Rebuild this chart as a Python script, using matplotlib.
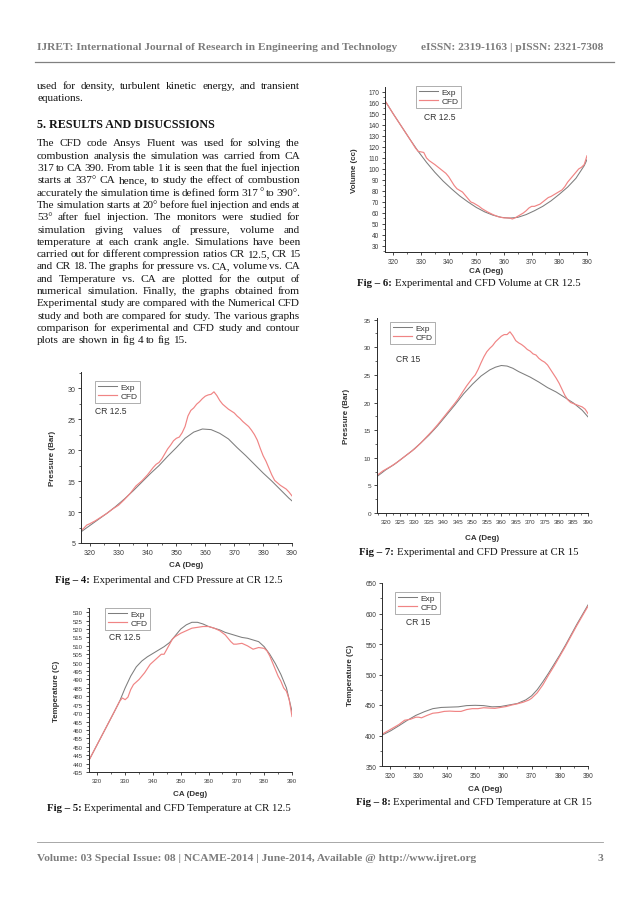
import matplotlib
matplotlib.use('Agg')
import matplotlib.pyplot as plt
from matplotlib.ticker import MultipleLocator

plt.rcParams['font.family'] = ['Liberation Sans', 'DejaVu Sans']

# ---------------- data ----------------
f4_exp_ca = [317, 320, 323, 326, 329, 332, 335, 338, 341, 344, 347, 350, 353, 356, 359, 362, 365, 368, 371, 374, 377, 380, 383, 386, 389, 390]
f4_exp_p = [6.8, 7.8, 8.8, 9.8, 10.9, 12.1, 13.4, 14.8, 16.2, 17.5, 19.0, 20.4, 21.9, 22.9, 23.4, 23.3, 22.7, 21.8, 20.4, 19.1, 17.7, 16.3, 15.0, 13.6, 12.2, 11.8]
f4_cfd_ca = [317, 318, 319, 320, 322, 324, 326, 328, 330, 332, 334, 336, 338, 340, 342, 343, 344, 345, 346, 347, 348, 349, 350, 351, 352, 353, 354, 355, 356, 357, 358, 359, 360, 361, 362, 363, 364, 365, 366, 367, 368, 369, 370, 371, 372, 373, 374, 375, 376, 377, 378, 379, 380, 381, 382, 383, 384, 385, 386, 387, 388, 389, 390]
f4_cfd_p = [7.0, 7.4, 7.9, 8.1, 8.6, 9.2, 9.8, 10.5, 11.1, 12.0, 13.0, 14.2, 15.0, 16.0, 17.2, 17.7, 18.0, 18.6, 19.4, 20.2, 20.8, 21.5, 21.9, 22.1, 22.8, 23.8, 25.5, 26.4, 26.8, 27.4, 27.8, 28.3, 28.7, 28.9, 29.0, 29.4, 28.8, 28.0, 27.4, 27.0, 26.6, 26.3, 26.0, 25.5, 25.1, 24.6, 24.2, 23.8, 23.2, 22.5, 21.6, 20.3, 19.1, 18.2, 17.1, 16.0, 15.1, 14.7, 14.3, 14.0, 13.7, 13.2, 12.6]

f5_exp_ca = [317, 320, 323, 326, 328, 330, 332, 334, 336, 338, 340, 342, 344, 346, 348, 350, 352, 354, 356, 358, 360, 362, 364, 366, 368, 370, 372, 374, 376, 378, 380, 382, 384, 386, 388, 390]
f5_exp_t = [442, 451.5, 461, 470.5, 477, 485, 492, 497.5, 501, 503.5, 505.5, 507.5, 509.5, 512, 516, 520, 522.5, 524, 524, 523, 521.5, 520.5, 519.5, 518, 517, 516, 515, 514.5, 513.5, 512.5, 509.5, 505, 499.5, 493, 485, 471]
f5_cfd_ca = [317, 320, 323, 326, 328, 329, 330, 331, 332, 333, 335, 337, 339, 341, 343, 344, 345, 346, 347, 348, 350, 352, 354, 356, 358, 360, 362, 364, 366, 368, 369, 370, 372, 374, 375, 376, 377, 378, 380, 381, 382, 383, 384, 385, 386, 387, 388, 389, 390]
f5_cfd_t = [442, 451.5, 461, 470.5, 477, 479, 478, 479.5, 484, 487, 490, 494, 499, 502, 505, 505, 508, 511, 514, 515.5, 517.5, 519, 520.5, 521, 521.5, 521.5, 520.5, 519, 516.5, 512.5, 511, 511, 511.5, 510, 509, 508, 508.5, 509, 508.5, 507, 504, 500, 496, 492, 489, 485, 483, 478, 468]

f6_exp_ca = [317, 320, 323, 326, 329, 332, 335, 338, 341, 344, 347, 350, 353, 356, 359, 362, 365, 368, 371, 374, 377, 380, 383, 386, 389, 390]
f6_exp_v = [162, 150, 138.5, 127, 116, 106, 97, 89, 82, 75.5, 70, 65, 61, 58, 56, 55.3, 56, 58.5, 62, 66, 71, 77, 83.5, 91.5, 103, 108.5]
f6_cfd_ca = [317, 320, 323, 326, 328, 329, 330, 331, 332, 333, 335, 337, 339, 340, 341, 342, 343, 344, 345, 346, 347, 348, 349, 350, 351, 352, 354, 356, 358, 360, 362, 363, 364, 365, 366, 367, 368, 369, 370, 371, 372, 373, 374, 375, 376, 377, 378, 379, 380, 381, 382, 383, 384, 385, 386, 387, 388, 389, 390]
f6_cfd_v = [162, 150, 138.5, 127, 119, 116, 115.5, 115, 110, 107.5, 104, 100, 96, 93, 89, 85, 82, 80.5, 79, 76, 73, 70, 69, 67.5, 66, 64, 61, 58.5, 56.5, 55.5, 55.5, 54.5, 55.5, 57, 58.5, 60, 62, 64.5, 66, 66, 67, 68, 70, 72, 74, 75, 76.5, 78, 79.5, 81, 84, 88, 91, 94, 97, 100, 101.5, 104, 112]

f7_exp_ca = [317, 320, 323, 326, 329, 332, 335, 338, 341, 344, 347, 350, 353, 356, 358, 360, 362, 364, 366, 368, 370, 373, 376, 379, 382, 385, 388, 390]
f7_exp_p = [6.6, 7.8, 8.8, 10.0, 11.2, 12.6, 14.1, 15.8, 17.7, 19.6, 21.6, 23.3, 24.8, 25.9, 26.4, 26.7, 26.6, 26.2, 25.6, 25.1, 24.6, 23.7, 22.7, 21.9, 20.9, 19.9, 18.6, 17.4]
f7_cfd_ca = [317, 319, 320, 322, 324, 326, 328, 330, 332, 334, 336, 338, 340, 342, 344, 345, 346, 347, 348, 349, 350, 351, 352, 353, 354, 355, 356, 357, 358, 359, 360, 361, 362, 363, 364, 365, 366, 367, 368, 369, 370, 371, 372, 373, 374, 375, 376, 377, 378, 379, 380, 381, 382, 383, 384, 385, 386, 387, 388, 389, 390]
f7_cfd_p = [6.8, 7.6, 7.9, 8.5, 9.2, 10.0, 10.8, 11.6, 12.6, 13.7, 14.8, 16.0, 17.3, 18.6, 19.9, 20.6, 21.4, 22.2, 23.0, 23.7, 24.4, 25.0, 26.0, 27.2, 28.3, 29.2, 29.8, 30.3, 31.0, 31.5, 32.0, 32.3, 32.3, 32.8, 32.1, 31.2, 30.8, 30.5, 30.1, 29.6, 29.3, 28.8, 28.6, 28.0, 27.6, 27.3, 26.8, 26.0, 25.2, 24.4, 23.5, 22.4, 21.3, 20.5, 20.0, 19.8, 19.6, 19.4, 19.2, 18.8, 18.0]

f8_exp_ca = [317, 320, 323, 326, 329, 332, 335, 338, 341, 344, 347, 350, 353, 356, 359, 362, 365, 368, 370, 372, 374, 376, 378, 380, 382, 384, 386, 388, 390]
f8_exp_t = [400.5, 407.5, 416, 425, 433, 439, 444, 446, 446.5, 447, 449, 449.5, 449, 447, 447.5, 450, 452.5, 458.5, 465, 475, 488, 502, 517, 532, 548, 565, 582, 598, 614]
f8_cfd_ca = [317, 320, 323, 325, 327, 329, 330, 331, 333, 335, 337, 339, 341, 343, 345, 347, 349, 351, 353, 355, 357, 359, 361, 363, 365, 367, 369, 370, 372, 374, 376, 378, 380, 382, 384, 386, 388, 390]
f8_cfd_t = [402, 410, 418, 425, 426.5, 430, 430, 429, 433, 436.5, 437.5, 439.5, 440, 439.5, 439.5, 442.5, 444, 444, 445.5, 445, 444.5, 446, 447.5, 450, 452, 454.5, 458, 461, 470, 483, 499, 514, 530, 546, 563, 580, 596, 612]

series_labels = ['Exp', 'CFD']

header_left = "IJRET: International Journal of Research in Engineering and Technology"
header_right = "eISSN: 2319-1163 | pISSN: 2321-7308"
footer_left = "Volume: 03 Special Issue: 08 | NCAME-2014 | June-2014, Available @ http://www.ijret.org"
footer_right = "3"
intro_lines = ["used for density, turbulent kinetic energy, and transient",
               "equations."]
heading = "5. RESULTS AND DISUCSSIONS"
body_lines = [
    "The CFD code Ansys Fluent was used for solving the",
    "combustion analysis the simulation was carried from CA",
    "317 to CA 390. From table 1 it is seen that the fuel injection",
    "starts at 337° CA hence, to study the effect of combustion",
    "accurately the simulation time is defined form 317 ° to 390°.",
    "The simulation starts at 20° before fuel injection and ends at",
    "53° after fuel injection. The monitors were studied for",
    "simulation giving values of pressure, volume and",
    "temperature at each crank angle. Simulations have been",
    "carried out for different compression ratios CR 12.5, CR 15",
    "and CR 18. The graphs for pressure vs. CA, volume vs. CA",
    "and Temperature vs. CA are plotted for the output of",
    "numerical simulation. Finally, the graphs obtained from",
    "Experimental study are compared with the Numerical CFD",
    "study and both are compared for study. The various graphs",
    "comparison for experimental and CFD study and contour",
    "plots are shown in fig 4 to fig 15.",
]

# ---------------- page ----------------
W, H = 638, 903
fig = plt.figure(figsize=(W / 100, H / 100), dpi=100)
fig.patch.set_facecolor('white')
bg = fig.add_axes([0, 0, 1, 1])
bg.set_xlim(0, W)
bg.set_ylim(H, 0)
bg.axis('off')
renderer = fig.canvas.get_renderer()

SERIF = 'Liberation Serif'
SANS = 'Liberation Sans'
TXT = '#141414'
GREY = '#7c7c7c'
EXP_C = '#7d7d7d'
CFD_C = '#f08484'


def put(x, y, s, **kw):
    kw.setdefault('family', SERIF)
    kw.setdefault('va', 'baseline')
    kw.setdefault('ha', 'left')
    kw.setdefault('color', TXT)
    return bg.text(x, y, s, **kw)


def width(t):
    return t.get_window_extent(renderer).width


def fit_size(s, target, **kw):
    t = put(0, 0, s, fontsize=10, **kw)
    w = width(t)
    t.remove()
    return 10 * target / w


def space_w(size, **kw):
    a = put(0, 0, 'a a', fontsize=size, **kw)
    b = put(0, 0, 'aa', fontsize=size, **kw)
    d = width(a) - width(b)
    a.remove(); b.remove()
    return d


COL_X0, COL_X1 = 37, 300


def words_width(line, size):
    tot = 0
    for w in line.split(' '):
        t = put(0, 0, w, fontsize=size)
        tot += width(t)
        t.remove()
    return tot


# body size: largest size where every justified line fits with spaces >= 0.6 of normal
def pick_body():
    just = body_lines[:-1] + intro_lines[:1]
    ref = 10.0
    sp10 = space_w(ref)
    best = 7.5
    ww = [(words_width(l, ref), len(l.split(' ')) - 1) for l in just]
    for k in range(0, 40):
        s = 7.5 + 0.05 * k
        f = s / ref
        ok = all(w * f + n * 0.6 * sp10 * f <= COL_X1 - COL_X0 for w, n in ww)
        if ok:
            best = s
    return best


BODY = pick_body()


def para(lines, x0, x1, y0, dy, size):
    sp = space_w(size)
    for i, line in enumerate(lines):
        y = y0 + i * dy
        words = line.split(' ')
        ts = [put(0, y, w, fontsize=size) for w in words]
        ws = [width(t) for t in ts]
        if i == len(lines) - 1 or len(words) == 1:
            gap = sp
        else:
            gap = (x1 - x0 - sum(ws)) / (len(words) - 1)
        x = x0
        for t, w in zip(ts, ws):
            t.set_x(x)
            x += w + gap


# header
hs = fit_size(header_left, 360, weight='bold')
put(37, 50, header_left, fontsize=hs, weight='bold', color=GREY)
put(603, 50, header_right, fontsize=hs, weight='bold', color=GREY, ha='right')
bg.plot([35, 614], [63, 63], color='#808080', lw=0.9)

# footer
fs = fit_size(footer_left, 438, weight='bold')
bg.plot([37, 603], [843, 843], color='#9a9a9a', lw=0.6)
put(37, 861, footer_left, fontsize=fs, weight='bold', color=GREY)
put(603, 861, footer_right, fontsize=fs, weight='bold', color=GREY, ha='right')

# body text
para(intro_lines, COL_X0, COL_X1, 89, 11.7, BODY)
put(COL_X0, 127.5, heading, fontsize=fit_size(heading, 177, weight='bold'), weight='bold')
para(body_lines, COL_X0, COL_X1, 146.5, 12.29, BODY)

# captions
CAP = fit_size('Fig – 5: Experimental and CFD Temperature at CR 12.5', 242)


def caption(cx, y, num, rest):
    a = put(0, y, 'Fig – %d:' % num, fontsize=CAP, weight='bold')
    b = put(0, y, rest, fontsize=CAP)
    sp = space_w(CAP)
    wa, wb = width(a), width(b)
    x0 = cx - (wa + sp + wb) / 2
    a.set_x(x0)
    b.set_x(x0 + wa + sp)


def chart(box, xlim, ylim, xmaj, xmin, ymaj, ymin, ex, ey, cx_, cy_, ylabel,
          ylab_x, xlab_y, leg_xy, cr, cr_xy, tick_fs=5.0):
    x0, y0, x1, y1 = box
    ax = fig.add_axes([x0 / W, 1 - y1 / H, (x1 - x0) / W, (y1 - y0) / H])
    ax.patch.set_alpha(0)
    ax.plot(ex, ey, color=EXP_C, lw=0.75, label=series_labels[0])
    ax.plot(cx_, cy_, color=CFD_C, lw=0.85, label=series_labels[1])
    ax.set_xlim(*xlim)
    ax.set_ylim(*ylim)
    for s in ['top', 'right']:
        ax.spines[s].set_visible(False)
    for s in ['left', 'bottom']:
        ax.spines[s].set_linewidth(0.7)
        ax.spines[s].set_color('#2a2a2a')
    ax.xaxis.set_major_locator(MultipleLocator(xmaj))
    ax.xaxis.set_minor_locator(MultipleLocator(xmin))
    ax.yaxis.set_major_locator(MultipleLocator(ymaj))
    ax.yaxis.set_minor_locator(MultipleLocator(ymin))
    ax.tick_params(which='major', direction='out', length=2.4, width=0.6,
                   labelsize=tick_fs, pad=1.8, color='#2a2a2a', labelcolor='#3a3a3a')
    ax.tick_params(which='minor', direction='out', length=1.3, width=0.5, color='#2a2a2a')
    leg = ax.legend(loc='upper left', bbox_to_anchor=(leg_xy[0] / W, 1 - leg_xy[1] / H),
                    bbox_transform=fig.transFigure, fontsize=6.0, frameon=True,
                    fancybox=False, edgecolor='#8a8a8a', borderpad=0.3,
                    labelspacing=0.12, handlelength=2.3, handletextpad=0.45,
                    borderaxespad=0)
    leg.get_frame().set_linewidth(0.6)
    for t in leg.get_texts():
        t.set_color('#333333')
    put(cr_xy[0], cr_xy[1], cr, family=SANS, fontsize=6.2, va='center', color='#333333')
    put(ylab_x, (y0 + y1) / 2, ylabel, family=SANS, rotation=90, ha='center', va='center',
        fontsize=5.8, weight='bold', color='#333333')
    put((x0 + x1) / 2, xlab_y, 'CA (Deg)', family=SANS, ha='center', va='center',
        fontsize=5.8, weight='bold', color='#333333')
    return ax


# Fig 4
chart((81, 373, 292, 544), (317, 390), (5, 32.6), 10, 5, 5, 2.5,
      f4_exp_ca, f4_exp_p, f4_cfd_ca, f4_cfd_p, 'Pressure (Bar)',
      53, 566, (95, 382), 'CR 12.5', (95, 412))
caption(169, 583, 4, 'Experimental and CFD Pressure at CR 12.5')

# Fig 5
chart((89, 609, 292, 773), (317, 390), (435, 532.5), 10, 5, 5, 2.5,
      f5_exp_ca, f5_exp_t, f5_cfd_ca, f5_cfd_t, 'Temperature (C)',
      57, 795, (105, 609), 'CR 12.5', (109, 638), tick_fs=4.3)
caption(169, 811, 5, 'Experimental and CFD Temperature at CR 12.5')

# Fig 6
chart((385, 88, 587, 253), (317, 390), (24.5, 174.5), 10, 5, 10, 5,
      f6_exp_ca, f6_exp_v, f6_cfd_ca, f6_cfd_v, 'Volume (cc)',
      354, 272, (416, 87), 'CR 12.5', (424, 117), tick_fs=4.7)
caption(469, 286, 6, 'Experimental and CFD Volume at CR 12.5')

# Fig 7
chart((377, 319, 588, 514), (317, 390), (0, 35.3), 5, 2.5, 5, 2.5,
      f7_exp_ca, f7_exp_p, f7_cfd_ca, f7_cfd_p, 'Pressure (Bar)',
      347, 539, (390, 323), 'CR 15', (396, 360), tick_fs=4.6)
caption(469, 555, 7, 'Experimental and CFD Pressure at CR 15')

# Fig 8
chart((382, 584, 588, 767), (317, 390), (350, 650), 10, 5, 50, 25,
      f8_exp_ca, f8_exp_t, f8_cfd_ca, f8_cfd_t, 'Temperature (C)',
      350, 790, (395, 593), 'CR 15', (406, 623), tick_fs=4.7)
caption(474, 805, 8, 'Experimental and CFD Temperature at CR 15')

fig.savefig('out.png', dpi=100, facecolor='white')
